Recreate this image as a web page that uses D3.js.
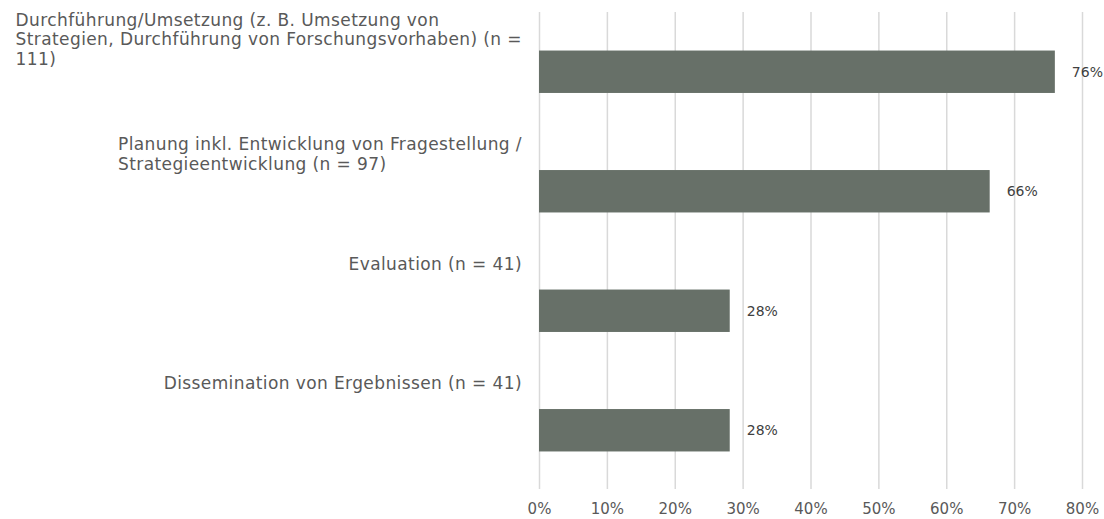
<!DOCTYPE html>
<html>
<head>
<meta charset="utf-8">
<script src="https://cdn.jsdelivr.net/npm/d3@7"></script>
<style>
  body { margin: 0; background: #ffffff; }
  svg { display: block; font-family: "DejaVu Sans", Verdana, sans-serif; }
</style>
</head>
<body>
<div id="container"></div>
<script>
"use strict";

const categories = [
  "Durchführung/Umsetzung (z. B. Umsetzung von Strategien, Durchführung von Forschungsvorhaben) (n = 111)",
  "Planung inkl. Entwicklung von Fragestellung / Strategieentwicklung (n = 97)",
  "Evaluation (n = 41)",
  "Dissemination von Ergebnissen (n = 41)"
];
const shares = [0.760, 0.664, 0.281, 0.281];
const valueLabels = ["76%", "66%", "28%", "28%"];
const xTicks = [0, 0.1, 0.2, 0.3, 0.4, 0.5, 0.6, 0.7, 0.8];

const width = 1104;
const height = 519;
const plotTop = 12;
const plotBottom = 490;
const plotLeft = 539;
const plotRight = 1082;
const labelMaxWidth = 512;
const lineHeight = 19.5;

const svg = d3
  .select("#container")
  .append("svg")
  .attr("width", width)
  .attr("height", height);

const x = d3.scaleLinear().domain([0, 0.8]).range([plotLeft, plotRight]);
const y = d3
  .scaleBand()
  .domain(categories)
  .range([plotTop, plotBottom])
  .paddingInner(0.645)
  .paddingOuter(0.3225);

// Draw grid + tick labels.
const xAxis = svg
  .append("g")
  .attr("transform", `translate(0, ${plotBottom - 1})`)
  .call(
    d3
      .axisBottom(x)
      .tickValues(xTicks)
      .tickSize(-(plotBottom - 1 - plotTop))
      .tickPadding(14)
      .tickFormat(d3.format(".0%"))
  );
xAxis.select(".domain").remove();
xAxis.selectAll(".tick line").attr("stroke", "#d9d9d9").attr("stroke-width", 1.5);
xAxis
  .selectAll(".tick text")
  .attr("fill", "#595959")
  .style("font-size", "15px")
  .style("font-family", "DejaVu Sans, sans-serif");

// Draw bars.
svg
  .selectAll(".bar")
  .data(categories)
  .enter()
  .append("rect")
  .attr("class", "bar")
  .attr("fill", "#677068")
  .attr("x", x(0))
  .attr("y", (d) => y(d))
  .attr("width", (d, i) => x(shares[i]) - x(0))
  .attr("height", y.bandwidth());

// Value labels right of the bars.
svg
  .selectAll(".value")
  .data(categories)
  .enter()
  .append("text")
  .attr("class", "value")
  .attr("x", (d, i) => x(shares[i]) + 17)
  .attr("y", (d) => y(d) + y.bandwidth() / 2)
  .attr("dy", "0.35em")
  .attr("fill", "#404040")
  .style("font-size", "14px")
  .text((d, i) => valueLabels[i]);

// Category labels above the bars, wrapped, block right-aligned to the axis.
categories.forEach((name) => {
  const bandTop = y(name) - y.step() * y.paddingInner() / 2;
  const text = svg
    .append("text")
    .attr("class", "cat-label")
    .attr("fill", "#595959")
    .style("font-size", "17px")
    .style("letter-spacing", "0.4px");

  const words = name.split(" ");
  const lines = [];
  let current = [];
  const probe = text.append("tspan");
  words.forEach((w) => {
    current.push(w);
    probe.text(current.join(" "));
    if (probe.node().getComputedTextLength() > labelMaxWidth && current.length > 1) {
      current.pop();
      lines.push(current.join(" "));
      current = [w];
    }
  });
  lines.push(current.join(" "));
  probe.remove();

  // Taller blocks sit a little higher in their band.
  const top = bandTop + 13 - (lines.length > 2 ? 5 : 0);
  const spans = lines.map((line, k) =>
    text
      .append("tspan")
      .attr("y", top + k * lineHeight)
      .attr("dy", "0.35em")
      .text(line)
  );
  const blockWidth = d3.max(spans, (s) => s.node().getComputedTextLength());
  const left = x(0) - 17 - blockWidth;
  spans.forEach((s) => s.attr("x", left));
});
</script>
</body>
</html>
